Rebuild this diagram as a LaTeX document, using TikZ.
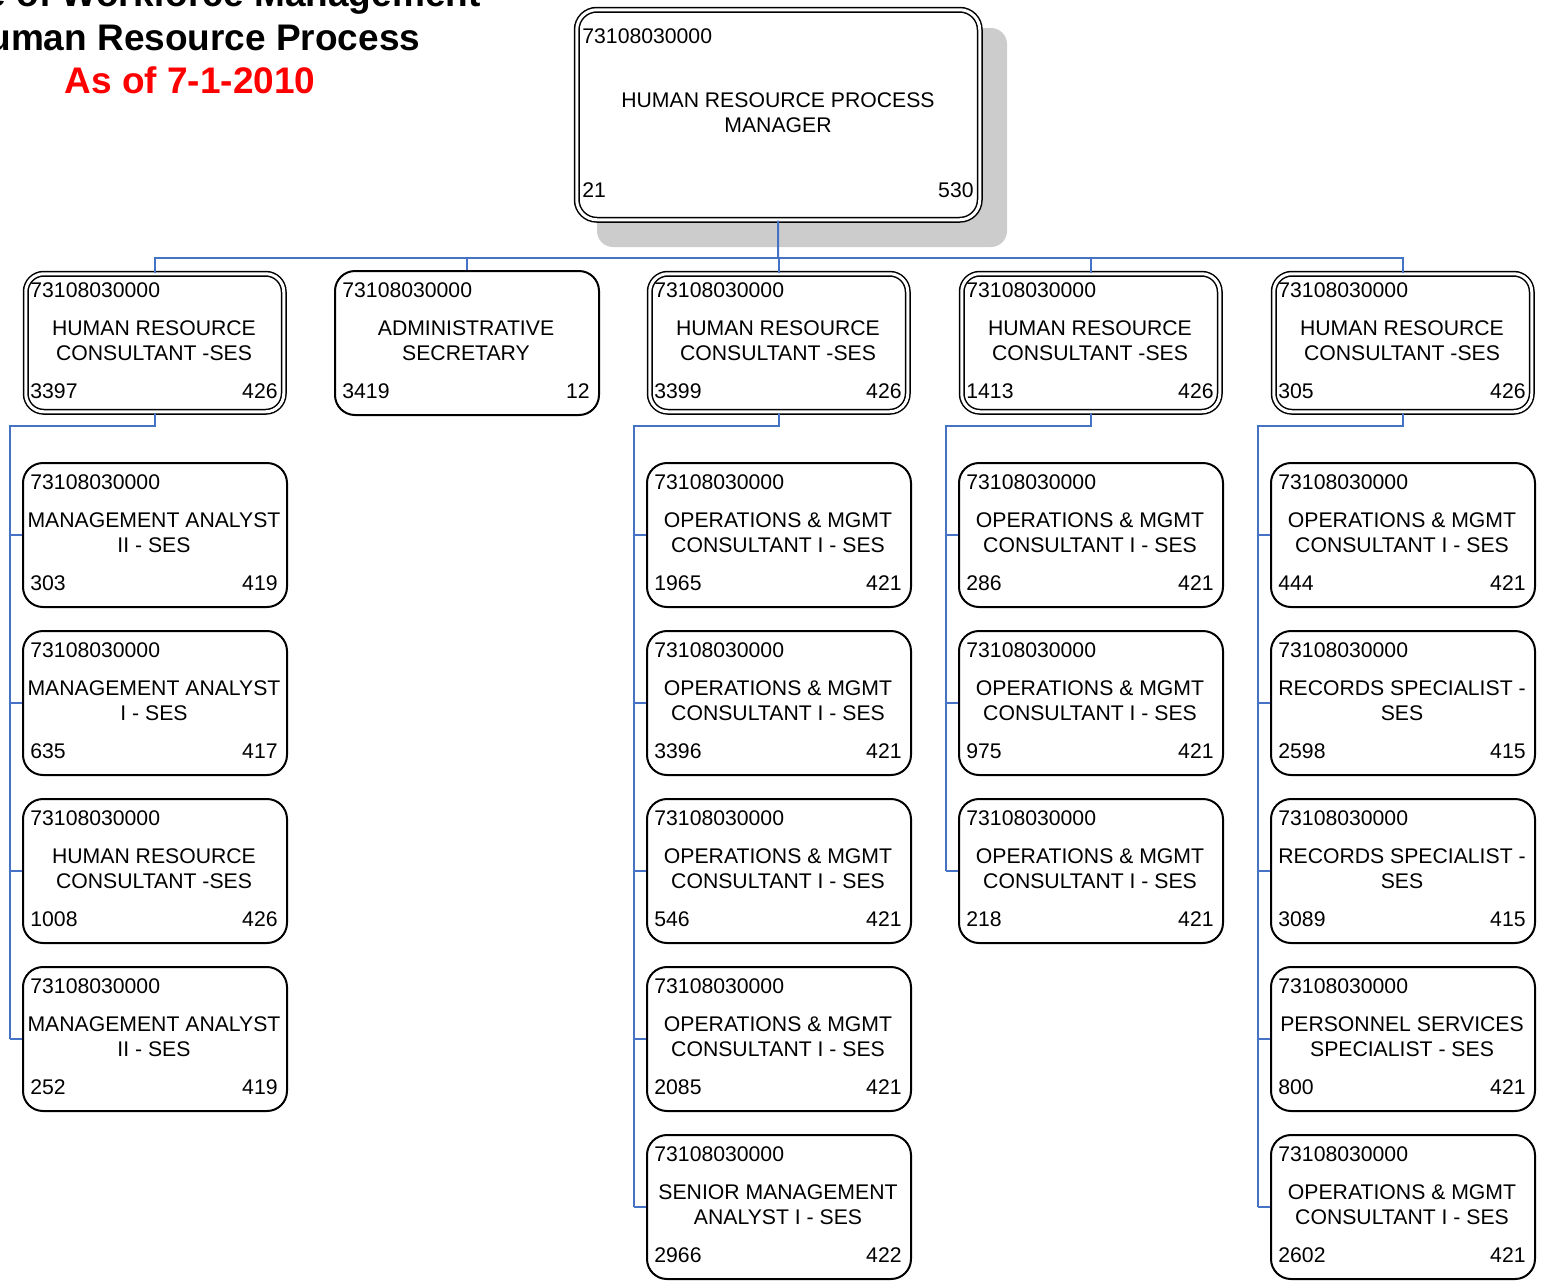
\documentclass[tikz,border=0pt]{standalone}
\usepackage{fontspec}
\setmainfont{Liberation Sans}
\usetikzlibrary{calc}
\definecolor{connblue}{HTML}{4472C4}
\definecolor{shadowgray}{HTML}{CCCCCC}
\definecolor{titlered}{HTML}{FF0000}

\tikzset{
  conn/.style={draw=connblue, line width=1pt},
  plainbox/.style={draw, line width=1pt, rounded corners=10pt, fill=white,
    minimum width=132pt, minimum height=72pt, inner sep=0pt, anchor=north west},
  dblbox/.style={draw, line width=0.75pt, double, double distance=1.5pt,
    rounded corners=9pt, fill=white, minimum width=129pt, minimum height=69pt,
    inner sep=0pt, anchor=north west, xshift=1.5pt, yshift=-1.5pt},
  boxtxt/.style={font=\fontsize{10.6}{12.5}\selectfont, inner sep=0pt},
  headtxt/.style={font=\fontsize{18.5}{22}\selectfont\bfseries, inner sep=0pt, anchor=base},
}

% position box: name, style, left, top, code, title, left number, right number
\newcommand\orgbox[8]{%
  \node[#2] (#1) at (#3,#4) {};
  \node[boxtxt, anchor=west] (#1-code) at ({#3+8},{#4+20}) {#5};
  \node[boxtxt, align=center] (#1-title) at ({#3+132},{#4+70.5}) {#6};
  \node[boxtxt, anchor=west] (#1-ln) at ({#3+8},{#4+121}) {#7};
  \node[boxtxt, anchor=east] (#1-rn) at ({#3+256},{#4+121}) {#8};
}

\begin{document}
\begin{tikzpicture}[x=0.5pt,y=-0.5pt]
\useasboundingbox (0,0) rectangle (1543,1281);
\clip (0,0) rectangle (1543,1281);

% heading
\node[headtxt] (head1) at (191,6) {Office of Workforce Management};
\node[headtxt] (head2) at (191,50) {Human Resource Process};
\node[headtxt, text=titlered] (head3) at (190,93) {As of 7-1-2010};

% top position with its shadow
\fill[shadowgray, rounded corners=8pt] (597,28) rectangle (1007,247);
\node[dblbox, minimum width=201.5pt, minimum height=105pt, rounded corners=10pt] (top) at (573,6) {};
\node[boxtxt, anchor=west] (top-code) at (582,36) {73108030000};
\node[boxtxt, align=center] (top-title) at (778,112.5) {HUMAN RESOURCE PROCESS\\MANAGER};
\node[boxtxt, anchor=west] (top-ln) at (582,190) {21};
\node[boxtxt, anchor=east] (top-rn) at (974,190) {530};

% second level
\orgbox{ka}{dblbox}{22}{270}{73108030000}{HUMAN RESOURCE\\CONSULTANT -SES}{3397}{426}
\orgbox{kb}{plainbox}{334}{270}{73108030000}{ADMINISTRATIVE\\SECRETARY}{3419}{12}
\orgbox{kc}{dblbox}{646}{270}{73108030000}{HUMAN RESOURCE\\CONSULTANT -SES}{3399}{426}
\orgbox{kd}{dblbox}{958}{270}{73108030000}{HUMAN RESOURCE\\CONSULTANT -SES}{1413}{426}
\orgbox{ke}{dblbox}{1270}{270}{73108030000}{HUMAN RESOURCE\\CONSULTANT -SES}{305}{426}

% column under ka
\orgbox{ka1}{plainbox}{22}{462}{73108030000}{MANAGEMENT ANALYST\\II - SES}{303}{419}
\orgbox{ka2}{plainbox}{22}{630}{73108030000}{MANAGEMENT ANALYST\\I - SES}{635}{417}
\orgbox{ka3}{plainbox}{22}{798}{73108030000}{HUMAN RESOURCE\\CONSULTANT -SES}{1008}{426}
\orgbox{ka4}{plainbox}{22}{966}{73108030000}{MANAGEMENT ANALYST\\II - SES}{252}{419}

% column under kc
\orgbox{kc1}{plainbox}{646}{462}{73108030000}{OPERATIONS \& MGMT\\CONSULTANT I - SES}{1965}{421}
\orgbox{kc2}{plainbox}{646}{630}{73108030000}{OPERATIONS \& MGMT\\CONSULTANT I - SES}{3396}{421}
\orgbox{kc3}{plainbox}{646}{798}{73108030000}{OPERATIONS \& MGMT\\CONSULTANT I - SES}{546}{421}
\orgbox{kc4}{plainbox}{646}{966}{73108030000}{OPERATIONS \& MGMT\\CONSULTANT I - SES}{2085}{421}
\orgbox{kc5}{plainbox}{646}{1134}{73108030000}{SENIOR MANAGEMENT\\ANALYST I - SES}{2966}{422}

% column under kd
\orgbox{kd1}{plainbox}{958}{462}{73108030000}{OPERATIONS \& MGMT\\CONSULTANT I - SES}{286}{421}
\orgbox{kd2}{plainbox}{958}{630}{73108030000}{OPERATIONS \& MGMT\\CONSULTANT I - SES}{975}{421}
\orgbox{kd3}{plainbox}{958}{798}{73108030000}{OPERATIONS \& MGMT\\CONSULTANT I - SES}{218}{421}

% column under ke
\orgbox{ke1}{plainbox}{1270}{462}{73108030000}{OPERATIONS \& MGMT\\CONSULTANT I - SES}{444}{421}
\orgbox{ke2}{plainbox}{1270}{630}{73108030000}{RECORDS SPECIALIST -\\SES}{2598}{415}
\orgbox{ke3}{plainbox}{1270}{798}{73108030000}{RECORDS SPECIALIST -\\SES}{3089}{415}
\orgbox{ke4}{plainbox}{1270}{966}{73108030000}{PERSONNEL SERVICES\\SPECIALIST - SES}{800}{421}
\orgbox{ke5}{plainbox}{1270}{1134}{73108030000}{OPERATIONS \& MGMT\\CONSULTANT I - SES}{2602}{421}

% connectors from the top position
\coordinate (bus) at (778,258);
\draw[conn] (top.south) -- (bus);
\draw[conn] (ka.north) -- (ka.north |- bus) -- (ke.north |- bus) -- (ke.north);
\foreach \k in {kb,kc,kd}
  \draw[conn] (\k.north) -- (\k.north |- bus);

% connectors to each column
\coordinate (spa) at (10,426);
\coordinate (spc) at (634,426);
\coordinate (spd) at (946,426);
\coordinate (spe) at (1258,426);
\draw[conn] (ka.south) -- (ka.south |- spa) -- (spa) -- (spa |- ka4.west);
\draw[conn] (kc.south) -- (kc.south |- spc) -- (spc) -- (spc |- kc5.west);
\draw[conn] (kd.south) -- (kd.south |- spd) -- (spd) -- (spd |- kd3.west);
\draw[conn] (ke.south) -- (ke.south |- spe) -- (spe) -- (spe |- ke5.west);
\foreach \k in {ka1,ka2,ka3,ka4}
  \draw[conn] (spa |- \k.west) -- (\k.west);
\foreach \k in {kc1,kc2,kc3,kc4,kc5}
  \draw[conn] (spc |- \k.west) -- (\k.west);
\foreach \k in {kd1,kd2,kd3}
  \draw[conn] (spd |- \k.west) -- (\k.west);
\foreach \k in {ke1,ke2,ke3,ke4,ke5}
  \draw[conn] (spe |- \k.west) -- (\k.west);
\end{tikzpicture}
\end{document}
